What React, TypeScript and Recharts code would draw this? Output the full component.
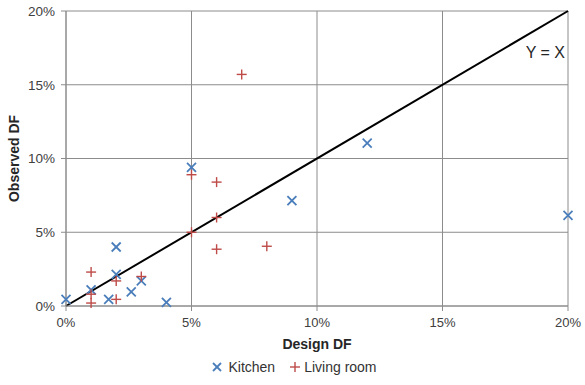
import React from 'react';
import { ScatterChart, Scatter, XAxis, YAxis, CartesianGrid, ReferenceLine, ReferenceDot, Legend } from 'recharts';

const kitchenX = [0, 1, 1.7, 2, 2, 2.6, 3, 4, 5, 9, 12, 20];
const kitchenY = [0.45, 1.1, 0.45, 4.0, 2.15, 0.95, 1.7, 0.25, 9.4, 7.15, 11.05, 6.15];
const livingX = [1, 1, 1, 2, 2, 3, 5, 5, 6, 6, 6, 7, 8];
const livingY = [2.3, 0.8, 0.2, 1.7, 0.45, 2.0, 5.0, 8.9, 8.4, 6.0, 3.85, 15.7, 4.05];
const ticks = [0, 5, 10, 15, 20];
const seriesNames = ['Kitchen', 'Living room'];
const lineLabel = 'Y = X';
const xTitle = 'Design DF';
const yTitle = 'Observed DF';

const kitchen = kitchenX.map((x, i) => ({ x, y: kitchenY[i] }));
const living = livingX.map((x, i) => ({ x, y: livingY[i] }));

const BLUE = '#4a7ebb';
const RED = '#be4b48';
const FONT = '"Liberation Sans", Arial, sans-serif';

const XShape = (props: any) => {
  const { cx, cy } = props;
  const s = 4.5;
  return (
    <g stroke={BLUE} strokeWidth={1.8}>
      <line x1={cx - s} y1={cy - s} x2={cx + s} y2={cy + s} />
      <line x1={cx - s} y1={cy + s} x2={cx + s} y2={cy - s} />
    </g>
  );
};

const PlusShape = (props: any) => {
  const { cx, cy } = props;
  const s = 5;
  return (
    <g stroke={RED} strokeWidth={1.4}>
      <line x1={cx - s} y1={cy} x2={cx + s} y2={cy} />
      <line x1={cx} y1={cy - s} x2={cx} y2={cy + s} />
    </g>
  );
};

const LegendContent = () => (
  <div style={{ display: 'flex', justifyContent: 'center', alignItems: 'center', fontFamily: FONT, fontSize: 14, color: '#333', paddingLeft: 20 }}>
    <svg width={12} height={12} style={{ marginRight: 5 }}>
      <line x1={2} y1={2} x2={10} y2={10} stroke={BLUE} strokeWidth={1.8} />
      <line x1={2} y1={10} x2={10} y2={2} stroke={BLUE} strokeWidth={1.8} />
    </svg>
    <span style={{ marginRight: 14 }}>{seriesNames[0]}</span>
    <svg width={12} height={12} style={{ marginRight: 3 }}>
      <line x1={1} y1={6} x2={11} y2={6} stroke={RED} strokeWidth={1.4} />
      <line x1={6} y1={1} x2={6} y2={11} stroke={RED} strokeWidth={1.4} />
    </svg>
    <span>{seriesNames[1]}</span>
  </div>
);

export default function App() {
  return (
    <div style={{ position: 'absolute', left: 0, top: 0, background: '#fff' }}>
      <ScatterChart width={585} height={385} margin={{ top: 11, right: 17, left: 0, bottom: 0 }}>
        <CartesianGrid stroke="#8c8c8c" strokeWidth={1} />
        <XAxis
          type="number"
          dataKey="x"
          domain={[0, 20]}
          ticks={ticks}
          tickFormatter={(v: number) => `${v}%`}
          stroke="#8c8c8c"
          tickSize={5}
          tickMargin={7}
          tick={{ fill: '#404040', fontSize: 13, fontFamily: FONT }}
          height={53}
          label={{ value: xTitle, position: 'insideBottom', offset: 10, style: { fill: '#262626', fontSize: 14, fontWeight: 'bold', fontFamily: FONT } }}
        />
        <YAxis
          type="number"
          dataKey="y"
          domain={[0, 20]}
          ticks={ticks}
          tickFormatter={(v: number) => `${v}%`}
          stroke="#8c8c8c"
          tickSize={5}
          tickMargin={6}
          tick={{ fill: '#404040', fontSize: 13.5, fontFamily: FONT }}
          width={66}
          label={{ value: yTitle, angle: -90, position: 'insideLeft', offset: 14, style: { textAnchor: 'middle', fill: '#262626', fontSize: 14, fontWeight: 'bold', fontFamily: FONT } }}
        />
        <ReferenceLine segment={[{ x: 0, y: 0 }, { x: 20, y: 20 }]} stroke="#000" strokeWidth={2} ifOverflow="visible" />
        <ReferenceDot x={19.1} y={17.2} r={0} fill="none" stroke="none" label={{ value: lineLabel, position: 'center', style: { fill: '#262626', fontSize: 16, fontFamily: FONT } }} />
        <Scatter name={seriesNames[0]} data={kitchen} shape={XShape} isAnimationActive={false} />
        <Scatter name={seriesNames[1]} data={living} shape={PlusShape} isAnimationActive={false} />
        <Legend verticalAlign="bottom" height={26} content={LegendContent} />
      </ScatterChart>
    </div>
  );
}
